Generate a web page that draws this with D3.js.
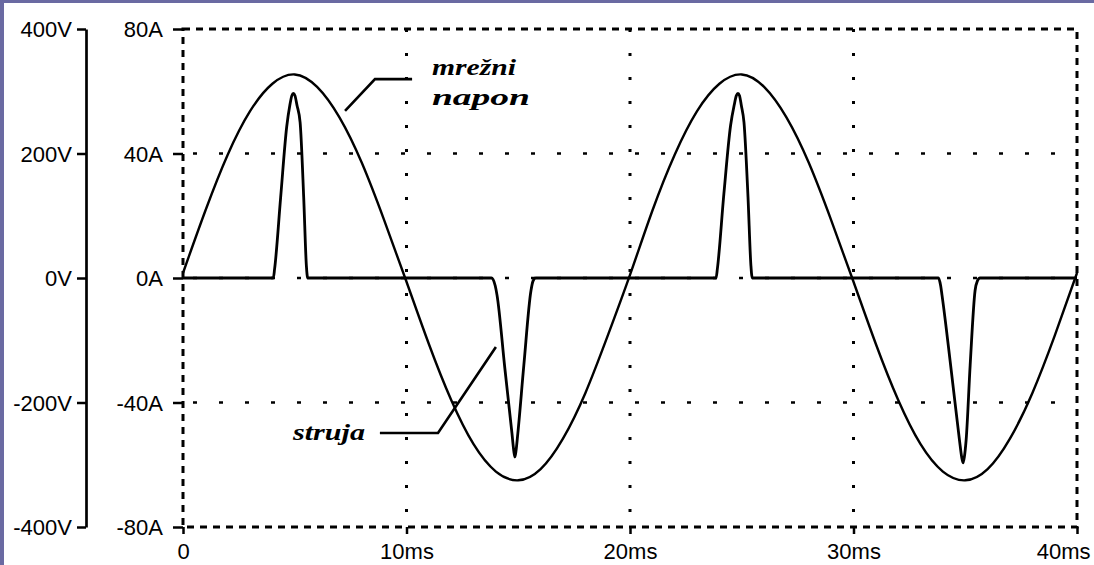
<!DOCTYPE html>
<html><head><meta charset="utf-8">
<script src="https://cdn.jsdelivr.net/npm/d3@7"></script>
<style>
html,body{margin:0;padding:0;background:#fff;}
svg{display:block;}
</style></head>
<body>
<svg id="c" width="1094" height="565"></svg>
<script>
// ---- data ----
const timeTicks = [0, 10, 20, 30, 40];
const voltTicks = [-400, -200, 0, 200, 400];
const ampTicks = [-80, -40, 0, 40, 80];

const voltTime = [0,1,2,3,4,5,6,7,8,9,10,11,12,13,14,15,16,17,18,19,20,21,22,23,24,25,26,27,28,29,30,31,32,33,34,35,36,37,38,39,40];
const voltValues = [8,108,198,268,312,327,307,258,185,93,-6,-106,-196,-267,-311,-325,-307,-258,-185,-93,5,108,198,268,312,327,307,258,185,93,-6,-106,-196,-267,-311,-325,-307,-258,-185,-93,8];

const currTime = [0,4.04,4.1,4.37,4.64,4.78,4.87,4.94,5.01,5.1,5.24,5.4,5.52,5.58,
  13.8,13.97,14.05,14.4,14.72,14.8,14.85,14.9,14.98,15.25,15.57,15.66,15.78,
  23.85,23.91,24.2,24.5,24.66,24.76,24.83,24.9,24.98,25.1,25.28,25.41,25.47,
  33.8,33.9,33.96,34.37,34.74,34.84,34.9,34.96,35.04,35.22,35.44,35.54,35.66,40];
const currValues = [0,0,3,26,48.6,55.5,58.6,59.3,58.6,55.5,50,26,4,0,
  0,-2.5,-5.5,-29,-50,-55.5,-57.5,-55.5,-50,-28,-4,-1,0,
  0,3,27,49,55.5,58.6,59.3,58.6,55.5,50,26,4,0,
  0,-2.5,-5.5,-29.5,-52,-57.5,-59.4,-57.5,-52,-28,-4,-1,0,0];

// annotation anchors (time ms, current A)
const napLeader = [[7.25,53.7],[8.59,63.9],[10.25,63.9]];
const strLeader = [[8.81,-49.8],[11.41,-49.8],[14.0,-22.2]];
const napLabels = [{t:11.14,a:65.2,s:"mrežni",w:84},{t:11.14,a:55.6,s:"napon",w:98}];
const strLabels = [{t:4.92,a:-52,s:"struja",w:72}];

// ---- chart ----
const svg = d3.select("#c");
const x = d3.scaleLinear().domain([0,40]).range([183,1077]);
const yA = d3.scaleLinear().domain([-80,80]).range([527,29]);
const yV = d3.scaleLinear().domain([-400,400]).range([527,29]);
const FONT = "'Liberation Sans', Arial, sans-serif";

// purple border
svg.append("rect").attr("x",0).attr("y",0).attr("width",1094).attr("height",3).attr("fill","#6a6aa2");
svg.append("rect").attr("x",0).attr("y",0).attr("width",4).attr("height",565).attr("fill","#6a6aa2");

// grid dotted
svg.append("g").selectAll("line").data([10,20,30]).join("line")
  .attr("x1",d=>x(d)).attr("x2",d=>x(d)).attr("y1",yA(80)).attr("y2",yA(-80))
  .attr("stroke","#000").attr("stroke-width",3).attr("stroke-dasharray","3,21");
svg.append("g").selectAll("line").data([-40,0,40]).join("line")
  .attr("x1",x(0)).attr("x2",x(40)).attr("y1",d=>yA(d)).attr("y2",d=>yA(d))
  .attr("stroke","#000").attr("stroke-width",2.5).attr("stroke-dasharray","4,22").attr("stroke-dashoffset",-10);

// frame dashed
svg.append("rect").attr("x",x(0)).attr("y",yA(80)).attr("width",x(40)-x(0)).attr("height",yA(-80)-yA(80))
  .attr("fill","none").attr("stroke","#000").attr("stroke-width",3).attr("stroke-dasharray","7,6");

// voltage axis
const gV = svg.append("g").attr("transform","translate(86,0)")
  .call(d3.axisLeft(yV).tickValues(voltTicks).tickSize(9).tickSizeOuter(0).tickPadding(5).tickFormat(d=>d+"V"));
gV.select(".domain").attr("stroke-width",2.7);
gV.selectAll(".tick line").attr("stroke-width",2.5);
gV.selectAll("text").attr("font-family",FONT).attr("font-size",22).attr("dy","0.36em").attr("fill","#000");

// current axis
const gA = svg.append("g").attr("transform",`translate(${x(0)},0)`)
  .call(d3.axisLeft(yA).tickValues(ampTicks).tickSize(10).tickSizeOuter(0).tickPadding(10).tickFormat(d=>d+"A"));
gA.select(".domain").remove();
gA.selectAll(".tick line").attr("stroke-width",2.5);
gA.selectAll("text").attr("font-family",FONT).attr("font-size",22).attr("dy","0.36em").attr("fill","#000");

// time axis
const gT = svg.append("g").attr("transform",`translate(0,${yA(-80)})`)
  .call(d3.axisBottom(x).tickValues(timeTicks).tickSize(7).tickSizeOuter(0).tickPadding(9).tickFormat(d=>d===0?"0":d+"ms"));
gT.select(".domain").remove();
gT.selectAll(".tick line").attr("stroke-width",2.5);
gT.selectAll("text").attr("font-family",FONT).attr("font-size",22).attr("fill","#000");
gT.selectAll(".tick").filter(d=>d===40).select("text").attr("text-anchor","end").attr("x",13);

// voltage curve
const vData = voltTime.map((t,i)=>[t,voltValues[i]]);
svg.append("path").datum(vData)
  .attr("d",d3.line().x(d=>x(d[0])).y(d=>yV(d[1])).curve(d3.curveNatural))
  .attr("fill","none").attr("stroke","#000").attr("stroke-width",2.4);

// current curve
const cData = currTime.map((t,i)=>[t,currValues[i]]);
svg.append("path").datum(cData)
  .attr("d",d3.line().x(d=>x(d[0])).y(d=>yA(d[1])).curve(d3.curveMonotoneX))
  .attr("fill","none").attr("stroke","#000").attr("stroke-width",2.8).attr("stroke-linejoin","round");

// leaders
const lead = d3.line().x(d=>x(d[0])).y(d=>yA(d[1]));
[napLeader,strLeader].forEach(L=>{
  svg.append("path").attr("d",lead(L)).attr("fill","none").attr("stroke","#000").attr("stroke-width",2.6);
});

// labels
svg.append("g").selectAll("text").data(napLabels.concat(strLabels)).join("text")
  .attr("x",d=>x(d.t)).attr("y",d=>yA(d.a))
  .attr("font-family","'Liberation Serif','Times New Roman',serif")
  .attr("font-style","italic").attr("font-weight","bold").attr("font-size",24)
  .attr("textLength",d=>d.w).attr("lengthAdjust","spacingAndGlyphs")
  .attr("fill","#000").text(d=>d.s);
</script>
</body></html>
